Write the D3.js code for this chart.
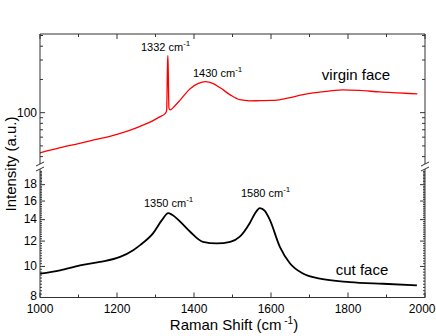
<!DOCTYPE html>
<html><head><meta charset="utf-8">
<script src="https://cdn.jsdelivr.net/npm/d3@7"></script>
<style>body{margin:0;background:#fff}svg{display:block}text{font-family:"Liberation Sans",Arial,sans-serif}</style>
</head><body><svg id="c" width="436" height="336"></svg>
<script>
const shift = [1000,1050,1100,1150,1200,1240,1260,1290,1312,1325,1329,1331,1332,1333,1335,1338,1350,1364,1390,1410,1430,1450,1468,1494,1519,1545,1571,1600,1616,1650,1680,1709,1750,1787,1830,1883,1930,1980];
const virgin = [43.3,48,52.5,57.5,63.5,70.5,75.2,83.5,92,98,105,250,328,250,110,106,115,130,165,183,191,183,168,145,131,128,128.5,129,130,137,145,151,157,161,159,154,151,148];
const shiftCut = [1000,1052,1104,1156,1208,1242,1260,1294,1317,1333,1343,1364,1390,1423,1459,1494,1519,1545,1558,1571,1584,1597,1623,1649,1683,1727,1805,1891,1979];
const cut = [9.50,9.73,10.08,10.33,10.71,11.24,11.66,12.71,13.97,14.67,14.5,13.80,12.83,11.94,11.80,11.94,12.39,13.67,14.6,15.21,14.9,13.97,11.51,10.23,9.50,9.16,8.94,8.83,8.73];
const xTicks = [1000,1200,1400,1600,1800,2000];
const xMinor = [1100,1300,1500,1700,1900];
const topTicks = [100];
const topMinor = [40,50,60,70,80,90,200,300,400,500];
const botTicks = [8,10,12,14,16,18];
const peaks = [
  {t:"1332 cm", x:141, y:51},
  {t:"1430 cm", x:193, y:77},
  {t:"1350 cm", x:144, y:207},
  {t:"1580 cm", x:241, y:197}
];

const svg = d3.select("#c");
const L=40,R=425,T=34,B=297.5,brkTop=163,brkBot=170;
const x = d3.scaleLinear().domain([1000,2000]).range([L,R]);
const yT = d3.scaleLog().domain([35,516]).range([brkTop,T]);
const yB = d3.scaleLog().domain([8,20]).range([B,brkBot]);
const ax="#333";

// data lines
svg.append("path").datum(d3.zip(shift,virgin)).attr("fill","none").attr("stroke","#ff0000").attr("stroke-width",1.3)
  .attr("d",d3.line().curve(d3.curveMonotoneX).x(d=>x(d[0])).y(d=>yT(d[1])));
svg.append("path").datum(d3.zip(shiftCut,cut)).attr("fill","none").attr("stroke","#000").attr("stroke-width",1.8)
  .attr("d",d3.line().curve(d3.curveMonotoneX).x(d=>x(d[0])).y(d=>yB(d[1])));

// frame
const g = svg.append("g").attr("stroke",ax).attr("stroke-width",1).attr("fill","none");
g.append("line").attr("x1",L).attr("x2",R).attr("y1",T).attr("y2",T);
g.append("line").attr("x1",L).attr("x2",R).attr("y1",B).attr("y2",B);
[L,R].forEach(px=>{
  g.append("line").attr("x1",px).attr("x2",px).attr("y1",T).attr("y2",brkTop+1);
  g.append("line").attr("x1",px).attr("x2",px).attr("y1",brkBot-1).attr("y2",B);
  g.append("line").attr("x1",px-4).attr("x2",px+4).attr("y1",brkTop+3).attr("y2",brkTop-1);
  g.append("line").attr("x1",px-4).attr("x2",px+4).attr("y1",brkBot+1).attr("y2",brkBot-3);
});
// x ticks
xTicks.forEach(v=>{
  g.append("line").attr("x1",x(v)).attr("x2",x(v)).attr("y1",B).attr("y2",B-5);
  g.append("line").attr("x1",x(v)).attr("x2",x(v)).attr("y1",T).attr("y2",T+5);
});
xMinor.forEach(v=>{
  g.append("line").attr("x1",x(v)).attr("x2",x(v)).attr("y1",B).attr("y2",B-3);
  g.append("line").attr("x1",x(v)).attr("x2",x(v)).attr("y1",T).attr("y2",T+3);
});
// y ticks
function yt(sc,vals,len){
  vals.forEach(v=>{
    g.append("line").attr("x1",L).attr("x2",L+len).attr("y1",sc(v)).attr("y2",sc(v));
    g.append("line").attr("x1",R).attr("x2",R-len).attr("y1",sc(v)).attr("y2",sc(v));
  });
}
yt(yT,topTicks,5); yt(yT,topMinor,3);
yt(yB,botTicks,5);
const botMinor = d3.range(8.2,20,0.2).filter(v=>Math.abs(v/2-Math.round(v/2))>0.01 || v>19);
yt(yB,botMinor,2);

// labels
const lab = svg.append("g").attr("fill","#000").attr("font-size",12);
xTicks.forEach((v,i)=>{
  const last = i===xTicks.length-1;
  lab.append("text").attr("x",last?435.5:x(v)).attr("y",B+15).attr("text-anchor",last?"end":"middle").text(v);
});
topTicks.forEach(v=>lab.append("text").attr("x",L-3).attr("y",yT(v)+4).attr("text-anchor","end").text(v));
botTicks.forEach(v=>lab.append("text").attr("x",L-3).attr("y",yB(v)+(v===8?2.5:3.5)).attr("text-anchor","end").text(v));

peaks.forEach(p=>{
  const t = svg.append("text").attr("x",p.x).attr("y",p.y).attr("font-size",11);
  t.append("tspan").text(p.t);
  t.append("tspan").attr("dy",-5).attr("font-size",8).text("-1");
});
svg.append("text").attr("x",356).attr("y",80).attr("text-anchor","middle").attr("font-size",15).text("virgin face");
svg.append("text").attr("x",362).attr("y",275).attr("text-anchor","middle").attr("font-size",15).text("cut face");

const xt = svg.append("text").attr("x",234).attr("y",330).attr("text-anchor","middle").attr("font-size",15);
xt.append("tspan").text("Raman Shift (cm");
xt.append("tspan").attr("dy",-6).attr("font-size",10).text(" -1");
xt.append("tspan").attr("dy",6).text(")");

const yl = svg.append("text").attr("transform","translate(16,164) rotate(-90)").attr("text-anchor","middle").attr("font-size",15);
yl.text("Intensity (a.u.)");
</script></body></html>
